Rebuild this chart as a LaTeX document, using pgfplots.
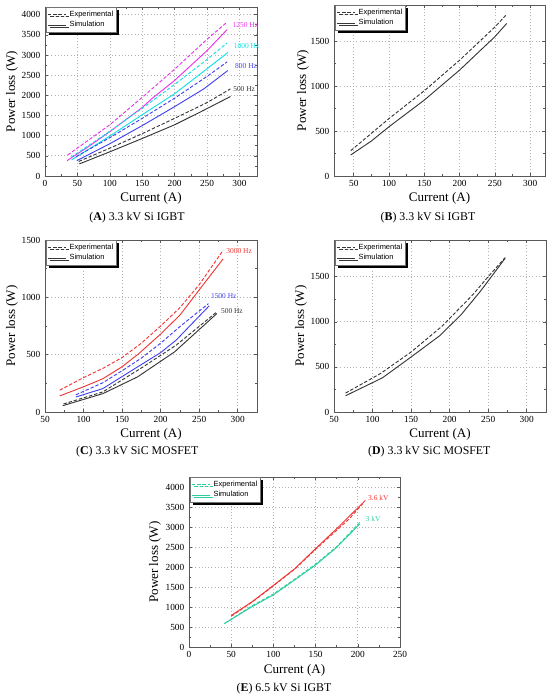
\documentclass[border=0pt]{standalone}
\usepackage{fontspec}
\setmainfont{Liberation Serif}
\newfontfamily\legfam{Liberation Sans}
\usepackage{pgfplots}
\pgfplotsset{compat=1.18}
\usetikzlibrary{shadows}
\definecolor{cmag}{RGB}{235,50,235}
\definecolor{ccyan}{RGB}{20,225,230}
\definecolor{cblue}{RGB}{65,65,240}
\definecolor{cblk}{RGB}{55,55,55}
\definecolor{cred}{RGB}{240,55,55}
\definecolor{cgrn}{RGB}{45,205,160}
\newcommand\tickfont{\fontsize{7}{7.5}\selectfont}
\newcommand\labfont{\fontsize{9.8}{11}\selectfont}
\newcommand\legfont{\legfam\fontsize{5.6}{6.4}\selectfont}
\newcommand\curvefont{\fontsize{5.6}{6}\selectfont}
\newcommand\capfont{\fontsize{8.9}{10}\selectfont}
\pgfplotsset{
  panel/.style={
    scale only axis, anchor=south west,
    axis line style={draw=black!65, line width=0.6pt},
    tick align=inside,
    major tick length=2.2pt, minor tick length=1.2pt,
    minor tick num=1,
    every tick/.style={black!65, line width=0.45pt},
    grid=major, major grid style={dotted, gray!60, line width=0.5pt},
    tick label style={font=\tickfont},
    /pgf/number format/assume math mode=true,
    /pgf/number format/1000 sep={},
    label style={font=\labfont},
    xlabel={Current (A)}, ylabel={Power loss (W)},
    clip=false,
    legend cell align=left,
    legend image code/.code={\draw[##1] (0pt,0pt) -- (14pt,0pt);},
    legend style={at={(axis description cs:0.006,1)}, anchor=north west,
      draw=black!55, line width=0.4pt, fill=white, font=\legfont,
      inner sep=0.6pt, row sep=-1.6pt,
      drop shadow={shadow xshift=1.8pt, shadow yshift=-1.8pt, fill=black, opacity=1}},
  },
  ed/.style={dash pattern=on 2.6pt off 1.4pt, line width=0.7pt},
  sd/.style={solid, line width=0.7pt},
}
\begin{document}
\begin{tikzpicture}
\path[use as bounding box] (0,0) rectangle (412.5pt,-523.5pt);

% ---------------- (A)
\begin{axis}[panel, at={(33.75pt,-132pt)}, width=159pt, height=126.75pt,
  xmin=0, xmax=327, ymin=0, ymax=4190,
  xtick={0,50,...,300}, ytick={0,500,...,4000},
  xlabel style={at={(axis description cs:0.5,-0.130)}, anchor=center},
  ylabel style={at={(axis description cs:-0.156,0.5)}, anchor=center}]
\addlegendimage{ed, cblk}\addlegendentry{Experimental}
\addlegendimage{sd, cblk}\addlegendentry{Simulation}
\addplot[ed, cmag, forget plot] coordinates {(35,520)(100,1270)(150,1950)(200,2650)(250,3390)(279,3790)};
\addplot[sd, cmag, forget plot] coordinates {(34,380)(70,760)(100,1100)(150,1700)(165,1920)(200,2370)(250,3110)(281,3630)};
\addplot[ed, ccyan, forget plot] coordinates {(40,465)(100,1110)(150,1680)(200,2270)(250,2890)(281,3300)};
\addplot[sd, ccyan, forget plot] coordinates {(41,400)(100,990)(150,1520)(200,2040)(250,2660)(282,3060)};
\addplot[ed, cblue, forget plot] coordinates {(48,480)(100,950)(150,1430)(200,1930)(250,2470)(281,2830)};
\addplot[sd, cblue, forget plot] coordinates {(49,380)(100,800)(150,1250)(200,1720)(245,2160)(282,2615)};
\addplot[ed, cblk, forget plot] coordinates {(52,360)(100,690)(150,1050)(200,1430)(250,1820)(286,2160)};
\addplot[sd, cblk, forget plot] coordinates {(53,300)(100,600)(150,930)(200,1270)(240,1590)(286,1970)};
\node[anchor=west, inner sep=0pt, text=cmag, font=\curvefont] at (axis cs:289,3750) {1250 Hz};
\node[anchor=west, inner sep=0pt, text=ccyan, font=\curvefont] at (axis cs:291,3213) {1000 Hz};
\node[anchor=west, inner sep=0pt, text=cblue, font=\curvefont] at (axis cs:293,2716) {800 Hz};
\node[anchor=west, inner sep=0pt, text=cblk, font=\curvefont] at (axis cs:290,2153) {500 Hz};
\end{axis}
\node[font=\capfont] at (102.75pt,-163.5pt) {(\textbf{A}) 3.3 kV Si IGBT};

% ---------------- (B)
\begin{axis}[panel, at={(250.5pt,-132pt)}, width=158.25pt, height=128.25pt,
  xmin=22, xmax=321, ymin=0, ymax=1905,
  xtick={50,100,...,300}, ytick={0,500,...,1500},
  xlabel style={at={(axis description cs:0.5,-0.129)}, anchor=center},
  ylabel style={at={(axis description cs:-0.147,0.5)}, anchor=center}]
\addlegendimage{ed, cblk}\addlegendentry{Experimental}
\addlegendimage{sd, cblk}\addlegendentry{Simulation}
\addplot[ed, cblk, forget plot] coordinates {(45.7,282)(100,640)(150,950)(200,1290)(250,1660)(265.4,1790)};
\addplot[sd, cblk, forget plot] coordinates {(45.7,234)(75,390)(100,549)(150,846)(175,1013)(200,1180)(250,1552)(266.8,1700)};
\end{axis}
\node[font=\capfont] at (321pt,-163.5pt) {(\textbf{B}) 3.3 kV Si IGBT};

% ---------------- (C)
\begin{axis}[panel, at={(33.75pt,-309pt)}, width=159pt, height=129pt,
  xmin=50, xmax=325, ymin=0, ymax=1500,
  xtick={50,100,...,300}, ytick={0,500,...,1500},
  xlabel style={at={(axis description cs:0.5,-0.128)}, anchor=center},
  ylabel style={at={(axis description cs:-0.156,0.5)}, anchor=center}]
\addlegendimage{ed, cblk}\addlegendentry{Experimental}
\addlegendimage{sd, cblk}\addlegendentry{Simulation}
\addplot[ed, cred, forget plot] coordinates {(69,190)(100,300)(125,380)(150,475)(175,600)(200,750)(225,910)(250,1110)(281,1410)};
\addplot[sd, cred, forget plot] coordinates {(69,140)(100,220)(125,290)(150,395)(171,505)(200,680)(225,845)(250,1065)(281,1335)};
\addplot[ed, cblue, forget plot] coordinates {(90,150)(125,255)(150,360)(175,470)(200,600)(225,745)(262,945)};
\addplot[sd, cblue, forget plot] coordinates {(90,131)(125,204)(170,393)(200,518)(220,626)(263,926)};
\addplot[ed, cblk, forget plot] coordinates {(74,70)(125,175)(175,384)(220,582)(272,868)};
\addplot[sd, cblk, forget plot] coordinates {(73,55)(125,160)(170,306)(218,524)(273,859)};
\node[anchor=west, inner sep=0pt, text=cred, font=\curvefont] at (axis cs:285,1404) {3000 Hz};
\node[anchor=west, inner sep=0pt, text=cblue, font=\curvefont] at (axis cs:265,1013) {1500 Hz};
\node[anchor=west, inner sep=0pt, text=cblk, font=\curvefont] at (axis cs:278,879) {500 Hz};
\end{axis}
\node[font=\capfont] at (103pt,-339pt) {(\textbf{C}) 3.3 kV SiC MOSFET};

% ---------------- (D)
\begin{axis}[panel, at={(250.5pt,-309pt)}, width=159pt, height=129pt,
  xmin=50, xmax=325, ymin=0, ymax=1907,
  xtick={50,100,...,300}, ytick={0,500,...,1500},
  xlabel style={at={(axis description cs:0.5,-0.128)}, anchor=center},
  ylabel style={at={(axis description cs:-0.156,0.5)}, anchor=center}]
\addlegendimage{ed, cblk}\addlegendentry{Experimental}
\addlegendimage{sd, cblk}\addlegendentry{Simulation}
\addplot[ed, cblk, forget plot] coordinates {(65,210)(110,425)(150,665)(190,950)(230,1300)(250,1500)(272,1712)};
\addplot[sd, cblk, forget plot] coordinates {(65,180)(113,380)(150,610)(187,845)(215,1080)(240,1340)(255,1510)(272,1705)};
\end{axis}
\node[font=\capfont] at (322pt,-339pt) {(\textbf{D}) 3.3 kV SiC MOSFET};

% ---------------- (E)
\begin{axis}[panel, at={(141.75pt,-485.25pt)}, width=158.25pt, height=127.5pt,
  xmin=0, xmax=250, ymin=0, ymax=4267,
  xtick={0,50,...,250}, ytick={0,500,...,4000},
  xlabel style={at={(axis description cs:0.5,-0.135)}, anchor=center},
  ylabel style={at={(axis description cs:-0.161,0.5)}, anchor=center}]
\addlegendimage{ed, cgrn}\addlegendentry{Experimental}
\addlegendimage{sd, cgrn}\addlegendentry{Simulation}
\addplot[ed, cred, forget plot] coordinates {(50,770)(75,1130)(96,1470)(125,1950)(150,2450)(175,2930)(190,3220)(206,3600)};
\addplot[sd, cred, forget plot] coordinates {(50,790)(75,1140)(96,1480)(125,1960)(150,2470)(175,2970)(209,3680)};
\addplot[ed, cgrn, forget plot] coordinates {(43,600)(75,1040)(100,1330)(125,1700)(150,2080)(175,2520)(203,3140)};
\addplot[sd, cgrn, forget plot] coordinates {(41.5,583)(75,1016)(100,1308)(125,1680)(150,2058)(175,2500)(202,3082)};
\node[anchor=west, inner sep=0pt, text=cred, font=\curvefont] at (axis cs:212,3742) {3.6 kV};
\node[anchor=west, inner sep=0pt, text=cgrn, font=\curvefont] at (axis cs:209,3208) {3 kV};
\end{axis}
\node[font=\capfont] at (213pt,-516.75pt) {(\textbf{E}) 6.5 kV Si IGBT};
\end{tikzpicture}
\end{document}
